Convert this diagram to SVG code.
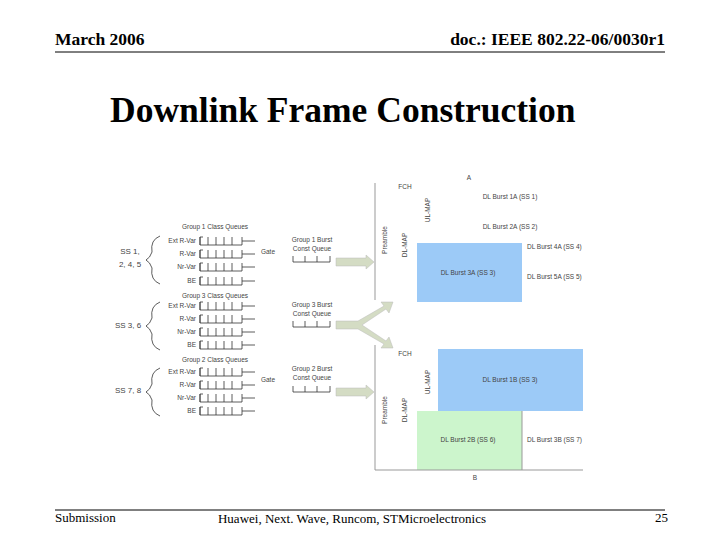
<svg xmlns="http://www.w3.org/2000/svg" width="720" height="540" viewBox="0 0 720 540">
<style>
.h{font-family:"Liberation Serif",serif;font-weight:bold;font-size:17.5px}
.f{font-family:"Liberation Serif",serif;font-size:13px}
.s{font-family:"Liberation Sans",sans-serif;font-size:6.5px;fill:#444}
.q{fill:none;stroke:#333;stroke-width:0.8}
.ax{stroke:#999;stroke-width:1;fill:none}
.arr{fill:#d4dcc4;stroke:#bbb;stroke-width:0.5}
</style>
<defs>
<g id="qq"><path class="q" d="M0-6V2H42M0-6V2M8-6V2M16-6V2M24-6V2M32-6V2M0-6H0M42-6V2M42-2H55M0 -6H3"/></g>
<g id="bq"><path class="q" d="M0 0H37M0 0V-6M12 0V-6M24 0V-6M37 0V-6"/></g>
</defs>
<rect width="720" height="540" fill="#fff"/>
<text class="h" x="55" y="45">March 2006</text>
<text class="h" x="665" y="45" text-anchor="end">doc.: IEEE 802.22-06/0030r1</text>
<line x1="55" y1="52" x2="665" y2="52" stroke="#000"/>
<text x="110" y="122" style="font-family:'Liberation Serif',serif;font-weight:bold;font-size:35.5px">Downlink Frame Construction</text>
<line x1="55" y1="510" x2="665" y2="510" stroke="#000"/>
<text class="f" x="55" y="522">Submission</text>
<text class="f" x="352" y="523" text-anchor="middle">Huawei, Next. Wave, Runcom, STMicroelectronics</text>
<text class="f" x="655" y="522">25</text>

<g id="queues">
<text class="s" x="215" y="229" text-anchor="middle">Group 1 Class Queues</text>
<text class="s" x="196" y="243" text-anchor="end">Ext R-Var</text><use href="#qq" x="200" y="243"/>
<text class="s" x="196" y="256" text-anchor="end">R-Var</text><use href="#qq" x="200" y="256"/>
<text class="s" x="196" y="269" text-anchor="end">Nr-Var</text><use href="#qq" x="200" y="269"/>
<text class="s" x="196" y="283" text-anchor="end">BE</text><use href="#qq" x="200" y="283"/>
<text class="s" x="215" y="298" text-anchor="middle">Group 3 Class Queues</text>
<text class="s" x="196" y="308" text-anchor="end">Ext R-Var</text><use href="#qq" x="200" y="308"/>
<text class="s" x="196" y="321" text-anchor="end">R-Var</text><use href="#qq" x="200" y="321"/>
<text class="s" x="196" y="334" text-anchor="end">Nr-Var</text><use href="#qq" x="200" y="334"/>
<text class="s" x="196" y="347" text-anchor="end">BE</text><use href="#qq" x="200" y="347"/>
<text class="s" x="215" y="362" text-anchor="middle">Group 2 Class Queues</text>
<text class="s" x="196" y="374" text-anchor="end">Ext R-Var</text><use href="#qq" x="200" y="374"/>
<text class="s" x="196" y="387" text-anchor="end">R-Var</text><use href="#qq" x="200" y="387"/>
<text class="s" x="196" y="400" text-anchor="end">Nr-Var</text><use href="#qq" x="200" y="400"/>
<text class="s" x="196" y="413" text-anchor="end">BE</text><use href="#qq" x="200" y="413"/>
</g>
<g id="ss">
<text class="s" x="130" y="254" text-anchor="middle" style="font-size:8px">SS 1,</text>
<text class="s" x="130" y="267" text-anchor="middle" style="font-size:8px">2, 4, 5</text>
<text class="s" x="128" y="328" text-anchor="middle" style="font-size:8px">SS 3, 6</text>
<text class="s" x="128" y="393" text-anchor="middle" style="font-size:8px">SS 7, 8</text>
<path class="q" d="M160 236Q150 240 152 252Q150 258 146 260Q150 262 152 268Q150 280 160 284"/>
<path class="q" d="M160 302Q150 306 152 318Q150 324 146 326Q150 328 152 334Q150 346 160 350"/>
<path class="q" d="M160 368Q150 372 152 384Q150 390 146 392Q150 394 152 400Q150 412 160 416"/>
</g>
<g id="gates">
<text class="s" x="268" y="254" text-anchor="middle">Gate</text>
<text class="s" x="268" y="382" text-anchor="middle">Gate</text>
<text class="s" x="312" y="242" text-anchor="middle">Group 1 Burst</text>
<text class="s" x="312" y="251" text-anchor="middle">Const Queue</text>
<use href="#bq" x="293" y="262"/>
<text class="s" x="312" y="307" text-anchor="middle">Group 3 Burst</text>
<text class="s" x="312" y="316" text-anchor="middle">Const Queue</text>
<use href="#bq" x="293" y="327"/>
<text class="s" x="312" y="371" text-anchor="middle">Group 2 Burst</text>
<text class="s" x="312" y="380" text-anchor="middle">Const Queue</text>
<use href="#bq" x="293" y="392"/>
</g>
<g id="connectors">
<path class="arr" d="M336 258H366V255L374 262L366 269V266H336Z"/>
<path class="arr" d="M336 388H366V385L374 392L366 399V396H336Z"/>
<path class="arr" d="M336 321H358L384 306L381 302L393 302L389 313L386 309L362 325L386 341L389 337L393 348L381 348L384 344L358 329H336Z"/>
</g>
<g id="frameA">
<path class="ax" d="M375 183V300"/>
<text class="s" x="469" y="180" text-anchor="middle">A</text>
<text class="s" x="405" y="189" text-anchor="middle">FCH</text>
<text class="s" x="510" y="199" text-anchor="middle">DL Burst 1A (SS 1)</text>
<text class="s" x="510" y="229" text-anchor="middle">DL Burst 2A (SS 2)</text>
<text class="s" transform="translate(430,210) rotate(-90)" text-anchor="middle">UL-MAP</text>
<text class="s" transform="translate(387,240) rotate(-90)" text-anchor="middle">Preamble</text>
<text class="s" transform="translate(407,245) rotate(-90)" text-anchor="middle">DL-MAP</text>
<rect x="417" y="243" width="105" height="59" fill="#9ccaf7"/>
<text class="s" x="468" y="275" text-anchor="middle">DL Burst 3A (SS 3)</text>
<text class="s" x="527" y="249">DL Burst 4A (SS 4)</text>
<text class="s" x="527" y="279">DL Burst 5A (SS 5)</text>
</g>
<g id="frameB">
<rect x="438" y="349" width="145" height="62" fill="#9ccaf7"/>
<rect x="417" y="411" width="105" height="59" fill="#ccf5cc"/>
<path class="ax" d="M375 345V470H583M522 411V470"/>
<text class="s" x="405" y="356" text-anchor="middle">FCH</text>
<text class="s" transform="translate(430,382) rotate(-90)" text-anchor="middle">UL-MAP</text>
<text class="s" transform="translate(387,410) rotate(-90)" text-anchor="middle">Preamble</text>
<text class="s" transform="translate(407,410) rotate(-90)" text-anchor="middle">DL-MAP</text>
<text class="s" x="510" y="382" text-anchor="middle">DL Burst 1B (SS 3)</text>
<text class="s" x="468" y="442" text-anchor="middle">DL Burst 2B (SS 6)</text>
<text class="s" x="527" y="442">DL Burst 3B (SS 7)</text>
<text class="s" x="475" y="480" text-anchor="middle">B</text>
</g>
</svg>
